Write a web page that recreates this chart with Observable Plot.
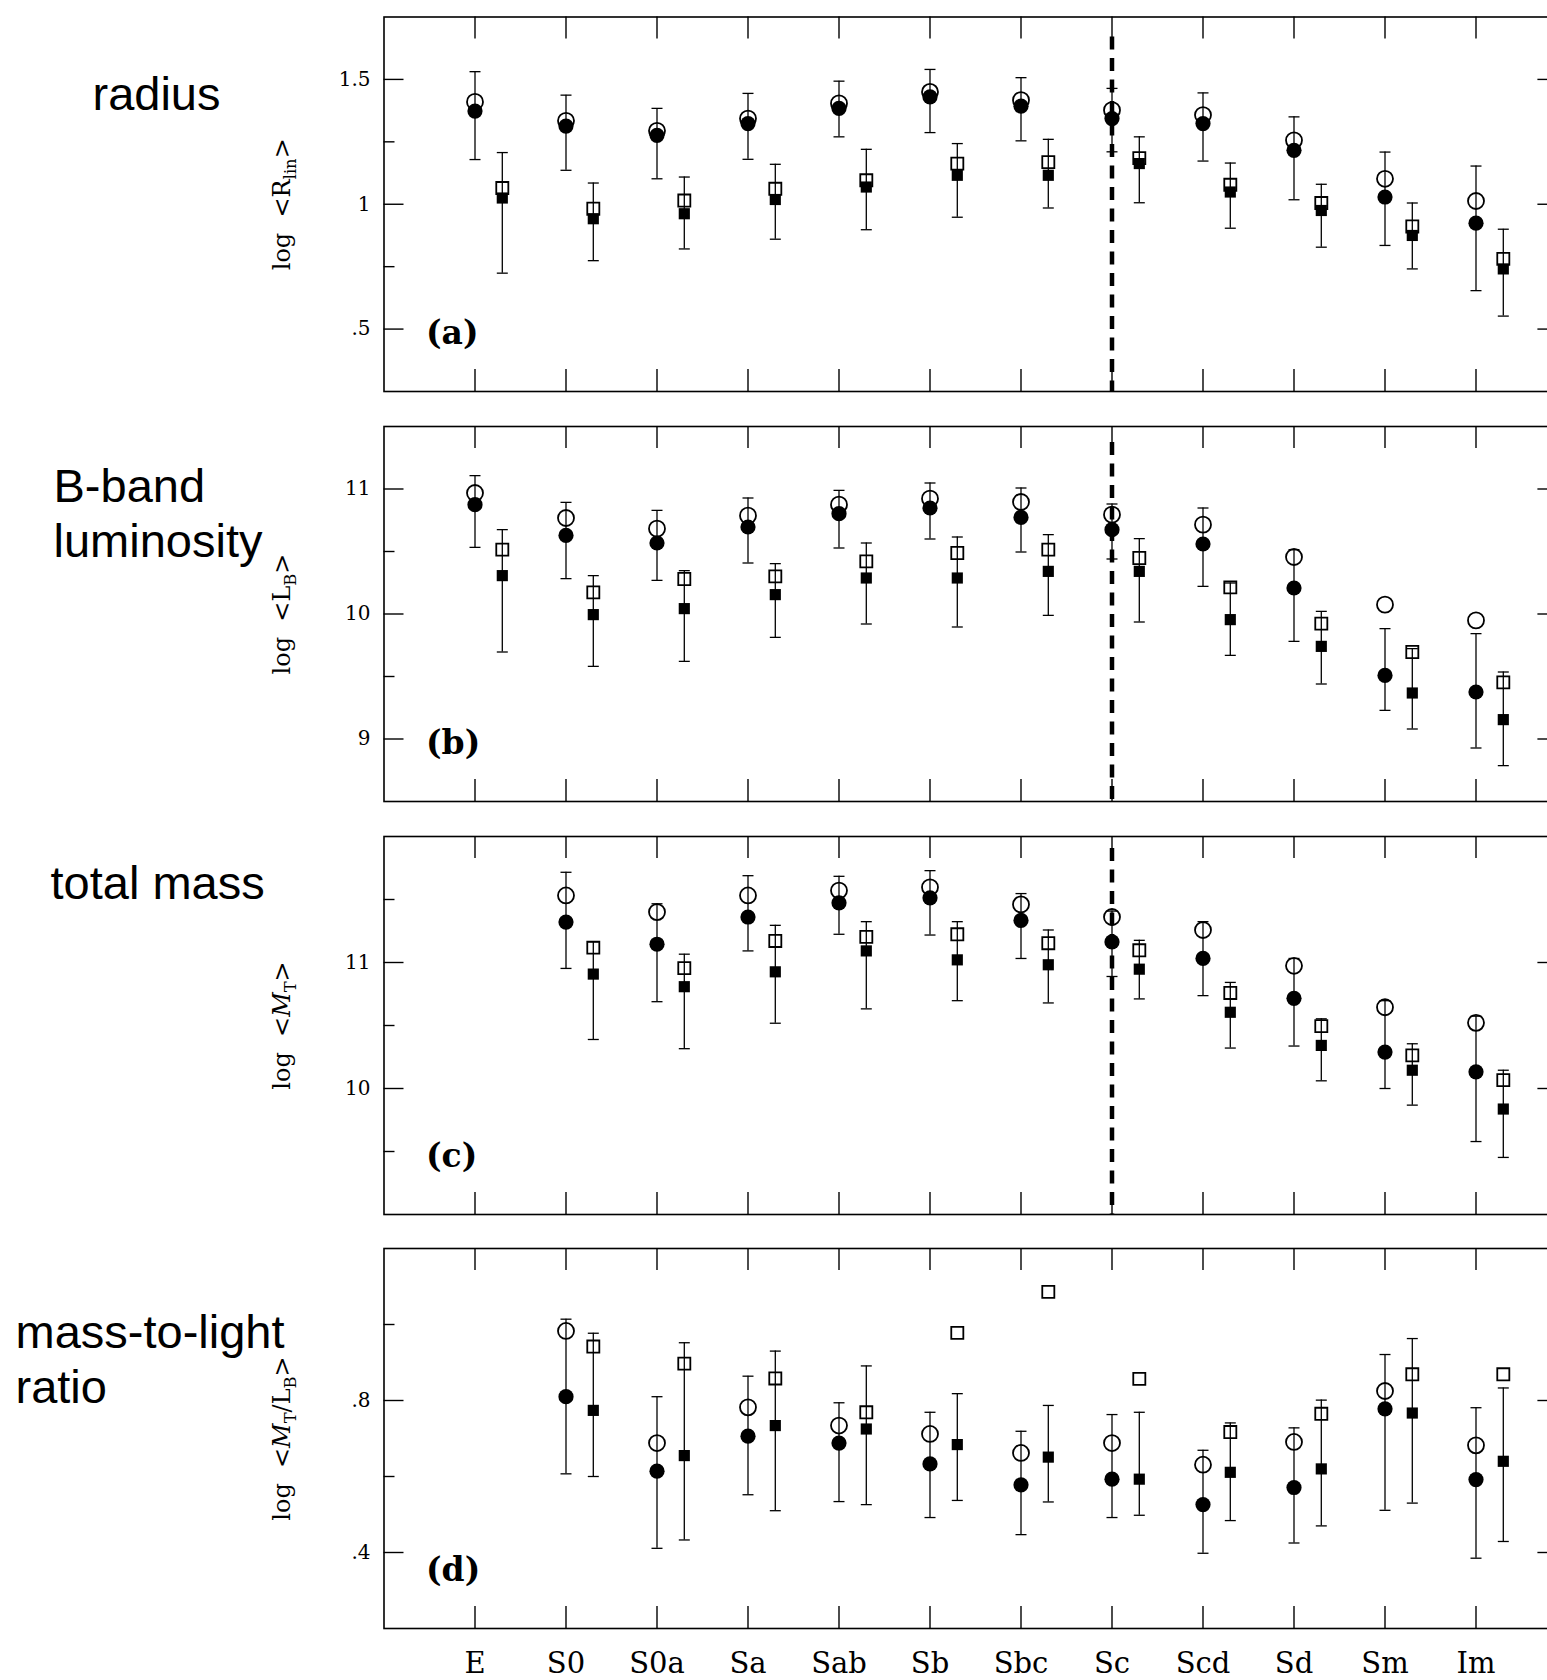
<!DOCTYPE html>
<html>
<head>
<meta charset="utf-8">
<script src="https://cdn.jsdelivr.net/npm/d3@7"></script>
<script src="https://cdn.jsdelivr.net/npm/@observablehq/plot@0.6"></script>
<style>
html, body { margin: 0; padding: 0; background: #fff; overflow: hidden; }
#chart svg { display: block; }
</style>
</head>
<body>
<div id="chart"></div>
<script>
// ---------------- DATA ----------------
const categories = ["E","S0","S0a","Sa","Sab","Sb","Sbc","Sc","Scd","Sd","Sm","Im"];

// (a) radius: log <R_lin>
const radiusOpenCircle = [1.41, 1.334, 1.294, 1.343, 1.404, 1.45, 1.417, 1.377, 1.357, 1.256, 1.102, 1.013];
const radiusFillCircle = [1.373, 1.313, 1.276, 1.323, 1.384, 1.43, 1.393, 1.343, 1.323, 1.216, 1.029, 0.924];
const radiusCircleHi   = [1.531, 1.437, 1.384, 1.444, 1.493, 1.54, 1.507, 1.464, 1.446, 1.35, 1.209, 1.153];
const radiusCircleLo   = [1.179, 1.136, 1.102, 1.18, 1.27, 1.287, 1.254, 1.21, 1.173, 1.018, 0.835, 0.654];
const radiusOpenSquare = [1.065, 0.982, 1.015, 1.062, 1.096, 1.163, 1.169, 1.185, 1.078, 1.005, 0.911, 0.781];
const radiusFillSquare = [1.025, 0.942, 0.962, 1.019, 1.069, 1.116, 1.116, 1.163, 1.049, 0.975, 0.875, 0.741];
const radiusSquareHi   = [1.207, 1.085, 1.109, 1.16, 1.22, 1.243, 1.26, 1.27, 1.165, 1.08, 1.005, 0.9];
const radiusSquareLo   = [0.724, 0.774, 0.821, 0.86, 0.898, 0.948, 0.985, 1.006, 0.904, 0.828, 0.741, 0.552];

// (b) B-band luminosity: log <L_B>
const lumOpenCircle = [10.968, 10.768, 10.683, 10.787, 10.875, 10.923, 10.896, 10.795, 10.715, 10.456, 10.075, 9.949];
const lumFillCircle = [10.875, 10.629, 10.568, 10.696, 10.803, 10.848, 10.773, 10.675, 10.56, 10.208, 9.509, 9.376];
const lumCircleHi   = [11.107, 10.893, 10.829, 10.928, 10.989, 11.048, 11.008, 10.88, 10.848, 10.515, 9.883, 9.843];
const lumCircleLo   = [10.533, 10.283, 10.269, 10.408, 10.528, 10.6, 10.496, 10.44, 10.221, 9.781, 9.229, 8.928];
const lumOpenSquare = [10.515, 10.173, 10.28, 10.301, 10.421, 10.488, 10.515, 10.448, 10.213, 9.923, 9.696, 9.453];
const lumFillSquare = [10.307, 9.995, 10.043, 10.155, 10.288, 10.288, 10.341, 10.341, 9.955, 9.741, 9.368, 9.155];
const lumSquareHi   = [10.675, 10.307, 10.347, 10.403, 10.568, 10.616, 10.635, 10.603, 10.248, 10.021, 9.723, 9.536];
const lumSquareLo   = [9.696, 9.581, 9.621, 9.813, 9.92, 9.896, 9.989, 9.936, 9.669, 9.44, 9.08, 8.787];

// (c) total mass: log <M_T>
const massOpenCircle = [null, 11.532, 11.4, 11.532, 11.571, 11.597, 11.461, 11.361, 11.258, 10.974, 10.645, 10.521];
const massFillCircle = [null, 11.321, 11.145, 11.361, 11.474, 11.513, 11.334, 11.163, 11.032, 10.716, 10.289, 10.132];
const massCircleHi   = [null, 11.716, 11.466, 11.689, 11.684, 11.729, 11.547, 11.408, 11.324, 11.032, 10.697, 10.574];
const massCircleLo   = [null, 10.953, 10.689, 11.092, 11.224, 11.218, 11.032, 10.889, 10.737, 10.337, 10.0, 9.579];
const massOpenSquare = [null, 11.118, 10.955, 11.171, 11.203, 11.224, 11.153, 11.097, 10.758, 10.495, 10.263, 10.066];
const massFillSquare = [null, 10.908, 10.808, 10.926, 11.092, 11.021, 10.982, 10.947, 10.605, 10.342, 10.145, 9.837];
const massSquareHi   = [null, 11.163, 11.066, 11.295, 11.324, 11.324, 11.258, 11.176, 10.842, 10.553, 10.355, 10.145];
const massSquareLo   = [null, 10.389, 10.316, 10.518, 10.632, 10.697, 10.679, 10.711, 10.321, 10.061, 9.868, 9.453];

// (d) mass-to-light ratio: log <M_T/L_B>
const mlOpenCircle = [null, 0.983, 0.688, 0.782, 0.734, 0.712, 0.662, 0.688, 0.631, 0.691, 0.825, 0.682];
const mlFillCircle = [null, 0.81, 0.614, 0.706, 0.688, 0.633, 0.578, 0.593, 0.526, 0.571, 0.778, 0.592];
const mlCircleHi   = [null, 1.014, 0.81, 0.864, 0.794, 0.769, 0.719, 0.763, 0.669, 0.728, 0.921, 0.781];
const mlCircleLo   = [null, 0.607, 0.411, 0.552, 0.534, 0.492, 0.447, 0.492, 0.398, 0.425, 0.511, 0.385];
const mlOpenSquare = [null, 0.942, 0.897, 0.858, 0.769, 0.978, 1.086, 0.857, 0.717, 0.765, 0.869, 0.869];
const mlFillSquare = [null, 0.774, 0.655, 0.734, 0.725, 0.684, 0.651, 0.593, 0.611, 0.62, 0.767, 0.64];
const mlSquareHi   = [null, 0.977, 0.952, 0.93, 0.891, 0.818, 0.787, 0.769, 0.741, 0.801, 0.963, 0.833];
const mlSquareLo   = [null, 0.60, 0.433, 0.51, 0.526, 0.537, 0.533, 0.498, 0.484, 0.47, 0.53, 0.429];

// ---------------- LAYOUT ----------------
const W = 1547;
const X0 = 383.5, X1 = 1557.4;       // frame left / right (right edge is off-canvas)
const SQ_OFF = 0.3;                  // square series offset (category units)
const dividerCat = "Sc";

function makeRows(oc, fc, cLo, cHi, os, fs, sLo, sHi) {
  return categories.map((c, i) => ({i, c, oc: oc[i], fc: fc[i], cLo: cLo[i], cHi: cHi[i],
    os: os[i], fs: fs[i], sLo: sLo[i], sHi: sHi[i]}));
}

const panels = [
  {
    rows: makeRows(radiusOpenCircle, radiusFillCircle, radiusCircleLo, radiusCircleHi,
                   radiusOpenSquare, radiusFillSquare, radiusSquareLo, radiusSquareHi),
    height: 408, mt: 16.5, mb: 17, domain: [0.25, 1.75],
    major: [0.5, 1, 1.5], minor: [0.75, 1.25],
    letter: "(a)", dashInset: 20,
    labels: [{t: "radius", x: 92, y: 109}],
    title: [["log\u00a0\u00a0<"], ["R"], ["lin", "sub"], [">"]]
  },
  {
    rows: makeRows(lumOpenCircle, lumFillCircle, lumCircleLo, lumCircleHi,
                   lumOpenSquare, lumFillSquare, lumSquareLo, lumSquareHi),
    height: 410, mt: 18, mb: 17, domain: [8.5, 11.5],
    major: [9, 10, 11], minor: [9.5, 10.5],
    letter: "(b)", dashInset: 16,
    labels: [{t: "B-band", x: 53, y: 93.7}, {t: "luminosity", x: 53, y: 148.7}],
    title: [["log\u00a0\u00a0<"], ["L"], ["B", "sub"], [">"]]
  },
  {
    rows: makeRows(massOpenCircle, massFillCircle, massCircleLo, massCircleHi,
                   massOpenSquare, massFillSquare, massSquareLo, massSquareHi),
    height: 413, mt: 18, mb: 17, domain: [9, 12],
    major: [10, 11], minor: [9.5, 10.5, 11.5],
    letter: "(c)", dashInset: 12,
    labels: [{t: "total mass", x: 50, y: 80}],
    title: [["log\u00a0\u00a0<"], ["M", "it"], ["T", "sub"], [">"]]
  },
  {
    rows: makeRows(mlOpenCircle, mlFillCircle, mlCircleLo, mlCircleHi,
                   mlOpenSquare, mlFillSquare, mlSquareLo, mlSquareHi),
    height: 449, mt: 17, mb: 52, domain: [0.2, 1.2],
    major: [0.4, 0.8], minor: [0.6, 1.0],
    letter: "(d)", dashInset: null, xLabels: true,
    labels: [{t: "mass-to-light", x: 15, y: 116}, {t: "ratio", x: 15, y: 171}],
    title: [["log\u00a0\u00a0<"], ["M", "it"], ["T", "sub"], ["/L"], ["B", "sub"], [">"]]
  }
];

const capSymbol = {draw(ctx) { ctx.moveTo(-5.5, 0); ctx.lineTo(5.5, 0); }};
const fmt = d => String(d).replace(/^0\./, ".");
const idx = categories.map((c, i) => i);
const dividerIdx = categories.indexOf(dividerCat);
const TITLE_FS = 24;

function applyRich(svg, segs) {
  const plain = segs.map(s => s[0]).join("");
  d3.select(svg).selectAll("text").filter(function() { return this.textContent === plain; })
    .each(function() {
      const t = d3.select(this);
      t.text(null);
      let sub = false;
      for (const [s, kind] of segs) {
        const ts = t.append("tspan").text(s);
        if (kind === "sub") {
          ts.attr("font-size", TITLE_FS * 0.68).attr("dy", sub ? 0 : 6);
          sub = true;
        } else {
          if (sub) ts.attr("dy", -6);
          sub = false;
          if (kind === "it") ts.attr("font-style", "italic");
        }
      }
    });
}

const chart = document.getElementById("chart");

for (const p of panels) {
  const FW = X1 - X0;
  const FH = p.height - p.mt - p.mb;
  const r = p.rows;
  const has = k => r.filter(d => d[k] != null);
  const marks = [
    Plot.frame({stroke: "black", strokeWidth: 1.6}),
    // category ticks, top and bottom (inward)
    Plot.ruleX(idx, {x: d => d, insetBottom: FH - 22, stroke: "black", strokeWidth: 1.4}),
    Plot.ruleX(idx, {x: d => d, insetTop: FH - 22, stroke: "black", strokeWidth: 1.4}),
    // y ticks inward (left major/minor, right major)
    Plot.ruleY(p.major, {y: d => d, insetRight: FW - 20, stroke: "black", strokeWidth: 1.4}),
    Plot.ruleY(p.minor, {y: d => d, insetRight: FW - 11, stroke: "black", strokeWidth: 1.4}),
    Plot.ruleY(p.major, {y: d => d, insetLeft: FW - 20, stroke: "black", strokeWidth: 1.4}),
    Plot.axisY(p.major, {tickSize: 0, tickPadding: 13.5, tickFormat: fmt, fontSize: 20,
      fontFamily: "DejaVu Serif", label: null}),
  ];
  if (p.dashInset != null) {
    marks.push(Plot.ruleX([dividerIdx], {x: d => d, insetTop: p.dashInset, stroke: "black",
      strokeWidth: 4.5, strokeDasharray: "13,8.5"}));
  }
  marks.push(
    // error bars
    Plot.ruleX(has("cLo"), {x: "i", y1: "cLo", y2: "cHi", stroke: "black", strokeWidth: 1.3}),
    Plot.ruleX(has("sLo"), {x: d => d.i + SQ_OFF, y1: "sLo", y2: "sHi", stroke: "black", strokeWidth: 1.3}),
    Plot.dot(has("cLo"), {x: "i", y: "cLo", symbol: capSymbol, fill: "none", stroke: "black", strokeWidth: 1.3}),
    Plot.dot(has("cHi"), {x: "i", y: "cHi", symbol: capSymbol, fill: "none", stroke: "black", strokeWidth: 1.3}),
    Plot.dot(has("sLo"), {x: d => d.i + SQ_OFF, y: "sLo", symbol: capSymbol, fill: "none", stroke: "black", strokeWidth: 1.3}),
    Plot.dot(has("sHi"), {x: d => d.i + SQ_OFF, y: "sHi", symbol: capSymbol, fill: "none", stroke: "black", strokeWidth: 1.3}),
    // open markers
    Plot.dot(has("oc"), {x: "i", y: "oc", r: 8, symbol: "circle", fill: "none", stroke: "black", strokeWidth: 1.8}),
    Plot.dot(has("os"), {x: d => d.i + SQ_OFF, y: "os", r: 6.8, symbol: "square", fill: "none", stroke: "black", strokeWidth: 1.8}),
    // filled markers
    Plot.dot(has("fc"), {x: "i", y: "fc", r: 7.6, symbol: "circle", fill: "black", stroke: "none"}),
    Plot.dot(has("fs"), {x: d => d.i + SQ_OFF, y: "fs", r: 6.3, symbol: "square", fill: "black", stroke: "none"}),
    // panel letter
    Plot.text([p.letter], {text: d => d, frameAnchor: "bottom-left", dx: 42, dy: -58,
      textAnchor: "start", lineAnchor: "middle", fontSize: 33, fontWeight: "bold",
      fontFamily: "DejaVu Serif"}),
    // y-axis title
    Plot.text([p.title.map(s => s[0]).join("")], {text: d => d, frameAnchor: "left", dx: 282 - X0,
      rotate: -90, textAnchor: "middle", lineAnchor: "middle", fontSize: TITLE_FS,
      fontFamily: "DejaVu Serif"}),
    // big left labels
    ...p.labels.map(l => Plot.text([l.t], {text: d => d, frameAnchor: "top-left",
      dx: l.x - X0, dy: l.y - p.mt, textAnchor: "start", lineAnchor: "bottom",
      fontSize: 47, fontFamily: "Liberation Sans"}))
  );
  if (p.xLabels) {
    marks.push(Plot.text(categories, {x: (d, i) => i, text: d => d, frameAnchor: "bottom", dy: 35,
      lineAnchor: "middle", textAnchor: "middle", fontSize: 29, fontFamily: "DejaVu Serif"}));
  }
  const svg = Plot.plot({
    width: W, height: p.height,
    marginLeft: X0, marginRight: W - X1, marginTop: p.mt, marginBottom: p.mb,
    x: {domain: [-1, 11.9], axis: null},
    y: {domain: p.domain, axis: null},
    style: {background: "white", color: "black", fontFamily: "DejaVu Serif", overflow: "hidden", maxWidth: "none"},
    marks
  });
  applyRich(svg, p.title);
  chart.appendChild(svg);
}
</script>
</body>
</html>
